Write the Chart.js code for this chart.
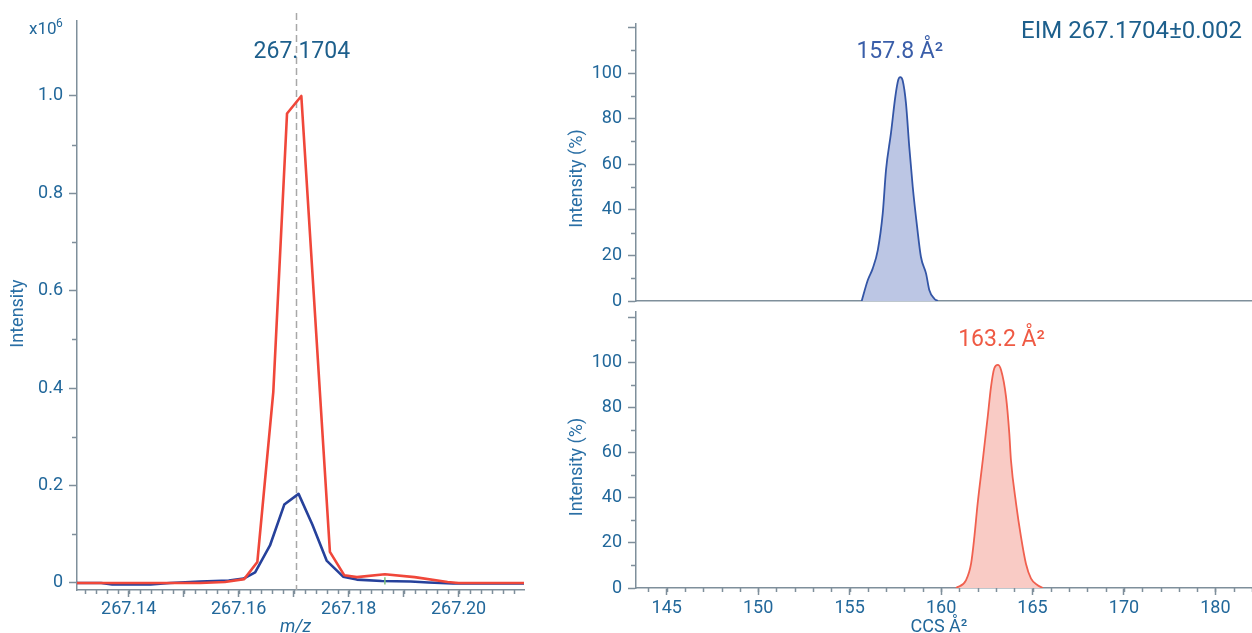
<!DOCTYPE html>
<html>
<head>
<meta charset="utf-8">
<script src="https://cdn.jsdelivr.net/npm/chart.js@4.4.1/dist/chart.umd.min.js"></script>
<style>
  html, body { margin: 0; padding: 0; background: #fff; }
  body { width: 1252px; height: 633px; position: relative; overflow: hidden; }
  canvas { position: absolute; }
  #msChart { left: 0; top: 0; }
  #ccsTop { left: 560px; top: 0; }
  #ccsBottom { left: 560px; top: 300px; }
</style>
</head>
<body>
<canvas id="msChart" width="545" height="633"></canvas>
<canvas id="ccsTop" width="692" height="314"></canvas>
<canvas id="ccsBottom" width="692" height="333"></canvas>
<script>
// mass spectrum (left), intensity in units of 1e6
var mzRed = [267.1306, 267.1530, 267.1575, 267.1610, 267.1634, 267.1663, 267.1688, 267.1714, 267.1766, 267.1792, 267.1815, 267.1866, 267.1920, 267.1980, 267.2000, 267.2119];
var intRed = [0, 0, 0.002, 0.008, 0.043, 0.392, 0.964, 1.0, 0.064, 0.016, 0.012, 0.018, 0.012, 0.002, 0, 0];
var mzBlue = [267.1306, 267.1350, 267.1370, 267.1440, 267.1475, 267.1530, 267.1582, 267.1609, 267.1630, 267.1657, 267.1683, 267.1709, 267.1734, 267.1760, 267.1790, 267.1815, 267.1860, 267.1913, 267.1945, 267.1990, 267.2119];
var intBlue = [0, 0, -0.003, -0.003, 0, 0.003, 0.005, 0.009, 0.022, 0.077, 0.161, 0.183, 0.120, 0.046, 0.013, 0.007, 0.004, 0.003, 0.001, -0.001, -0.001];
var mzGreen = [267.1866, 267.1866];
var intGreen = [-0.003, 0.012];
var targetMz = 267.1704;

var mzTicks = [267.14, 267.15, 267.16, 267.17, 267.18, 267.19, 267.20];
var mzTickLabels = ['267.14', '', '267.16', '', '267.18', '', '267.20'];
var intTicks = [0, 0.2, 0.4, 0.6, 0.8, 1.0];
var intTickLabels = ['0', '0.2', '0.4', '0.6', '0.8', '1.0'];
var intMinor = [0.1, 0.3, 0.5, 0.7, 0.9];

// CCS mobilograms (right)
var ccsBlue = [155.66, 155.99, 156.26, 156.54, 156.81, 156.99, 157.26, 157.50, 157.66, 157.77, 157.90, 158.08, 158.26, 158.45, 158.69, 158.90, 159.18, 159.36, 159.63, 159.82];
var pctBlue = [0, 9.1, 14.2, 22.3, 38.4, 57.5, 73.6, 89.7, 97.0, 98.2, 96.7, 86.8, 67.7, 50.1, 32.5, 19.3, 12.0, 4.7, 1.0, 0];
var ccsRed = [160.82, 161.36, 161.64, 161.82, 162.00, 162.28, 162.55, 162.73, 162.91, 163.10, 163.28, 163.55, 163.73, 163.82, 164.10, 164.37, 164.64, 164.92, 165.28, 165.56];
var pctRed = [0, 3.4, 10.8, 22.7, 37.5, 56.8, 76.0, 89.3, 97.5, 99.0, 96.8, 84.9, 68.6, 56.8, 37.5, 22.7, 10.8, 4.2, 1.2, 0];
var ccsBlueLabel = 157.8;
var ccsRedLabel = 163.2;

var ccsTicks = [145, 150, 155, 160, 165, 170, 175];
var ccsTickLabels = ['145', '150', '155', '160', '165', '170', '180'];
var pctTicks = [0, 20, 40, 60, 80, 100, 120];
var pctTickLabels = ['0', '20', '40', '60', '80', '100', ''];
var pctMinor = [10, 30, 50, 70, 90, 110];

var axisColor = '#7f8f9b';
var tickColor = '#22689b';
var titleColor = '#1d5f8c';
var FONT = 'Roboto, "Liberation Sans", sans-serif';

Chart.defaults.font.family = FONT;

function toPoints(xs, ys) {
    return xs.map(function (x, i) { return { x: x, y: ys[i] }; });
}

function setTicks(values) {
    return function (scale) {
        scale.ticks = values.map(function (v) { return { value: v }; });
    };
}

function drawMinor(chart, axisId, values, len) {
    var s = chart.scales[axisId];
    var a = chart.chartArea;
    var ctx = chart.ctx;
    ctx.save();
    ctx.strokeStyle = axisColor;
    ctx.lineWidth = 1.5;
    values.forEach(function (v) {
        var p = Math.round(s.getPixelForValue(v)) + 0.5;
        ctx.beginPath();
        if (s.isHorizontal()) {
            ctx.moveTo(p, a.bottom);
            ctx.lineTo(p, a.bottom + len);
        } else {
            ctx.moveTo(a.left, p);
            ctx.lineTo(a.left - len, p);
        }
        ctx.stroke();
    });
    ctx.restore();
}

function drawText(ctx, text, x, y, font, color, align, rotate) {
    ctx.save();
    ctx.font = font;
    ctx.fillStyle = color;
    ctx.textAlign = align || 'center';
    ctx.textBaseline = 'middle';
    ctx.translate(x, y);
    if (rotate) ctx.rotate(rotate);
    ctx.fillText(text, 0, 0);
    ctx.restore();
}

function stepValues(from, to, step) {
    var out = [];
    for (var v = from; v <= to + step / 2; v += step) out.push(+v.toFixed(4));
    return out;
}

function yAxis(min, max, ticks, labels, width, tickLen, pad) {
    return {
        type: 'linear',
        min: min,
        max: max,
        afterBuildTicks: setTicks(ticks),
        afterFit: function (s) { s.width = width; s.paddingTop = 0; s.paddingBottom = 0; },
        border: { color: axisColor, width: 1.5 },
        grid: { drawOnChartArea: false, drawTicks: true, tickLength: tickLen, tickColor: axisColor, tickWidth: 1.5 },
        ticks: {
            color: tickColor,
            font: { size: 18 },
            padding: pad,
            callback: function (v, i) { return labels[i]; }
        }
    };
}

function xAxis(min, max, ticks, labels, height, tickLen, pad) {
    return {
        type: 'linear',
        min: min,
        max: max,
        afterBuildTicks: setTicks(ticks),
        afterFit: function (s) { s.height = height; s.paddingLeft = 0; s.paddingRight = 0; },
        border: { color: axisColor, width: 1.5 },
        grid: { drawOnChartArea: false, drawTicks: true, tickLength: tickLen, tickColor: axisColor, tickWidth: 1.5 },
        ticks: {
            color: tickColor,
            font: { size: 18 },
            padding: pad,
            maxRotation: 0,
            autoSkip: false,
            callback: function (v, i) { return labels[i]; }
        }
    };
}

var baseOptions = {
    responsive: false,
    animation: false,
    devicePixelRatio: 1,
    plugins: { legend: { display: false }, tooltip: { enabled: false } },
    elements: { point: { radius: 0 } }
};

// ---------- left: m/z spectrum ----------
new Chart(document.getElementById('msChart'), {
    type: 'line',
    data: {
        datasets: [
            { data: toPoints(mzRed, intRed), borderColor: '#f0473a', borderWidth: 2.6, tension: 0, borderJoinStyle: 'round' },
            { data: toPoints(mzGreen, intGreen), borderColor: '#7cc47a', borderWidth: 1.5, tension: 0 },
            { data: toPoints(mzBlue, intBlue), borderColor: '#26419b', borderWidth: 2.6, tension: 0, borderJoinStyle: 'round' }
        ]
    },
    options: Object.assign({}, baseOptions, {
        layout: { padding: { top: 21, right: 21, left: 0, bottom: 0 } },
        scales: {
            x: xAxis(267.1306, 267.2119, mzTicks, mzTickLabels, 43, 7, 2),
            y: yAxis(-0.0144, 1.154, intTicks, intTickLabels, 77, 8, 6)
        }
    }),
    plugins: [{
        id: 'msDeco',
        beforeDatasetsDraw: function (chart) {
            var ctx = chart.ctx;
            var px = Math.round(chart.scales.x.getPixelForValue(targetMz)) + 0.5;
            ctx.save();
            ctx.strokeStyle = '#a8a8a8';
            ctx.lineWidth = 1.5;
            ctx.setLineDash([7, 4]);
            ctx.beginPath();
            ctx.moveTo(px, 13);
            ctx.lineTo(px, chart.chartArea.bottom);
            ctx.stroke();
            ctx.restore();
        },
        afterDraw: function (chart) {
            var ctx = chart.ctx;
            var a = chart.chartArea;
            drawMinor(chart, 'x', stepValues(267.132, 267.210, 0.002), 4);
            drawMinor(chart, 'y', intMinor, 5);
            var px = chart.scales.x.getPixelForValue(targetMz);
            drawText(ctx, '267.1704', px + 6, 52, '23px ' + FONT, titleColor);
            drawText(ctx, 'x10', 29, 30, '17px ' + FONT, tickColor, 'left');
            drawText(ctx, '6', 56, 24, '12px ' + FONT, tickColor, 'left');
            drawText(ctx, 'Intensity', 18, (a.top + a.bottom) / 2 + 8, '18px ' + FONT, '#2a6fa5', 'center', -Math.PI / 2);
            drawText(ctx, 'm/z', (a.left + a.right) / 2 - 5, 627, 'italic 18px ' + FONT, tickColor);
        }
    }]
});

// ---------- right top: blue mobilogram ----------
new Chart(document.getElementById('ccsTop'), {
    type: 'line',
    data: {
        datasets: [{
            data: toPoints(ccsBlue, pctBlue),
            borderColor: '#3355a6',
            borderWidth: 1.8,
            backgroundColor: '#bcc6e4',
            fill: 'origin',
            cubicInterpolationMode: 'monotone'
        }]
    },
    options: Object.assign({}, baseOptions, {
        layout: { padding: { top: 24, right: 0, left: 0, bottom: 0 } },
        scales: {
            x: {
                type: 'linear',
                min: 143.32,
                max: 177.0,
                afterFit: function (s) { s.height = 13; s.paddingLeft = 0; s.paddingRight = 0; },
                border: { color: axisColor, width: 1.5 },
                grid: { drawOnChartArea: false, drawTicks: false },
                ticks: { display: false }
            },
            y: yAxis(0, 121.5, pctTicks, pctTickLabels, 76, 8, 6)
        }
    }),
    plugins: [{
        id: 'topDeco',
        afterDraw: function (chart) {
            var ctx = chart.ctx;
            var a = chart.chartArea;
            drawMinor(chart, 'y', pctMinor, 5);
            var px = chart.scales.x.getPixelForValue(ccsBlueLabel);
            drawText(ctx, '157.8 Å²', px - 1, 52, '23px ' + FONT, '#3a5ea9');
            drawText(ctx, 'EIM 267.1704±0.002', 682, 32, '24px ' + FONT, titleColor, 'right');
            drawText(ctx, 'Intensity (%)', 17, (a.top + a.bottom) / 2 + 16, '18px ' + FONT, '#2a6fa5', 'center', -Math.PI / 2);
        }
    }]
});

// ---------- right bottom: red mobilogram ----------
new Chart(document.getElementById('ccsBottom'), {
    type: 'line',
    data: {
        datasets: [{
            data: toPoints(ccsRed, pctRed),
            borderColor: '#f0604f',
            borderWidth: 1.8,
            backgroundColor: '#f9cbc5',
            fill: 'origin',
            cubicInterpolationMode: 'monotone'
        }]
    },
    options: Object.assign({}, baseOptions, {
        layout: { padding: { top: 12, right: 0, left: 0, bottom: 0 } },
        scales: {
            x: xAxis(143.32, 177.0, ccsTicks, ccsTickLabels, 45, 7, 3),
            y: yAxis(0, 122.5, pctTicks, pctTickLabels, 76, 8, 6)
        }
    }),
    plugins: [{
        id: 'bottomDeco',
        afterDraw: function (chart) {
            var ctx = chart.ctx;
            var a = chart.chartArea;
            drawMinor(chart, 'x', stepValues(144, 177, 1), 4);
            drawMinor(chart, 'y', pctMinor, 5);
            var px = chart.scales.x.getPixelForValue(ccsRedLabel);
            drawText(ctx, '163.2 Å²', px + 2, 40, '23px ' + FONT, '#ef5a44');
            drawText(ctx, 'Intensity (%)', 17, (a.top + a.bottom) / 2 + 17, '18px ' + FONT, '#2a6fa5', 'center', -Math.PI / 2);
            drawText(ctx, 'CCS Å²', 379, 327, '18px ' + FONT, tickColor);
        }
    }]
});
</script>
</body>
</html>
